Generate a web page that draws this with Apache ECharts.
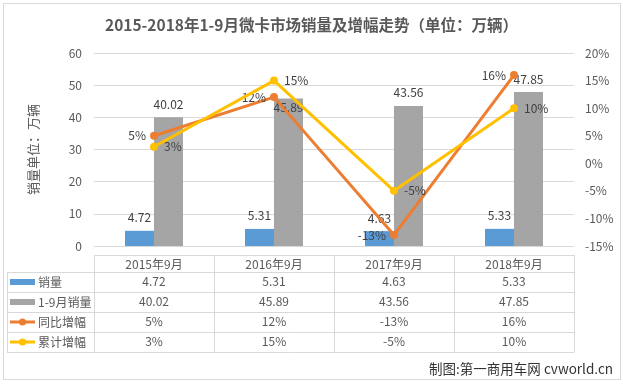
<!DOCTYPE html>
<html>
<head>
<meta charset="utf-8">
<script src="https://cdn.jsdelivr.net/npm/echarts@6/dist/echarts.min.js"></script>
<style>
html,body{margin:0;padding:0;background:#fff;}
#main{width:623px;height:385px;}
</style>
</head>
<body>
<div id="main"></div>
<script>
const categories = ['2015年9月', '2016年9月', '2017年9月', '2018年9月'];
const seriesNames = ['销量', '1-9月销量', '同比增幅', '累计增幅'];
const monthSales = [4.72, 5.31, 4.63, 5.33];
const ytdSales = [40.02, 45.89, 43.56, 47.85];
const yoyGrowth = [5, 12, -13, 16];
const ytdGrowth = [3, 15, -5, 10];
const salesTicks = [0, 10, 20, 30, 40, 50, 60];
const growthTicks = [-15, -10, -5, 0, 5, 10, 15, 20];

const FONT = '"Noto Sans CJK SC", "Noto Sans", sans-serif';
const TXT = '#595959';
const GRID = '#d9d9d9';
const colors = ['#5B9BD5', '#A5A5A5', '#ED7D31', '#FFC000'];

const chart = echarts.init(document.getElementById('main'), null, {renderer: 'canvas'});

// the 2016 cumulative label sits just inside its bar in the original
const ytdSalesData = ytdSales.map((v, i) => i === 1
  ? {value: v, label: {position: 'insideTop', distance: 3}}
  : v);

const option = {
  animation: false,
  backgroundColor: '#fff',
  textStyle: {fontFamily: FONT},
  title: {
    text: '2015-2018年1-9月微卡市场销量及增幅走势（单位：万辆）',
    left: 'center', top: 12,
    textStyle: {fontFamily: FONT, fontSize: 15.5, fontWeight: 'bold', color: TXT}
  },
  grid: {left: 94, right: 49, top: 53, bottom: 139},
  xAxis: {
    type: 'category', data: categories,
    axisLine: {show: false}, axisTick: {show: false}, axisLabel: {show: false}
  },
  yAxis: [{
    type: 'value',
    min: salesTicks[0], max: salesTicks[salesTicks.length - 1],
    interval: salesTicks[1] - salesTicks[0],
    name: '销量单位：万辆', nameLocation: 'middle', nameGap: 54, nameRotate: 90,
    nameTextStyle: {fontFamily: FONT, fontSize: 13, color: TXT},
    axisLine: {show: false}, axisTick: {show: false},
    axisLabel: {fontFamily: FONT, fontSize: 12, color: TXT, margin: 12},
    splitLine: {lineStyle: {color: GRID, width: 1}}
  }, {
    type: 'value',
    min: growthTicks[0], max: growthTicks[growthTicks.length - 1],
    interval: growthTicks[1] - growthTicks[0],
    axisLine: {show: false}, axisTick: {show: false},
    axisLabel: {fontFamily: FONT, fontSize: 12, color: TXT, margin: 11, formatter: '{value}%'},
    splitLine: {show: false}
  }],
  series: [{
    name: seriesNames[0], type: 'bar', data: monthSales,
    barWidth: 29, barGap: '0%',
    itemStyle: {color: colors[0]},
    label: {show: true, position: 'top', distance: 7, fontFamily: FONT, fontSize: 12, color: '#404040'}
  }, {
    name: seriesNames[1], type: 'bar', data: ytdSalesData,
    barWidth: 29, barGap: '0%',
    itemStyle: {color: colors[1]},
    label: {show: true, position: 'top', distance: 7, fontFamily: FONT, fontSize: 12, color: '#404040'}
  }, {
    name: seriesNames[2], type: 'line', yAxisIndex: 1, data: yoyGrowth,
    symbol: 'circle', symbolSize: 8, z: 5,
    lineStyle: {color: colors[2], width: 3}, itemStyle: {color: colors[2]},
    label: {show: true, position: 'left', distance: 4, fontFamily: FONT, fontSize: 12, color: '#404040', formatter: '{c}%'}
  }, {
    name: seriesNames[3], type: 'line', yAxisIndex: 1, data: ytdGrowth,
    symbol: 'circle', symbolSize: 8, z: 6,
    lineStyle: {color: colors[3], width: 3}, itemStyle: {color: colors[3]},
    label: {show: true, position: 'right', distance: 6, fontFamily: FONT, fontSize: 12, color: '#404040', formatter: '{c}%'}
  }]
};
chart.setOption(option);

// Data table beneath the plot, aligned with the category axis
const centers = categories.map((c, i) => chart.convertToPixel({xAxisIndex: 0}, i));
const band = centers.length > 1 ? centers[1] - centers[0] : 120;
const colEdges = [centers[0] - band / 2].concat(centers.map(c => c + band / 2));
const tableLeft = 7;
const headerTop = 255, headerBottom = 272, rowH = 20;
const rows = [
  monthSales.map(v => v.toFixed(2)),
  ytdSales.map(v => v.toFixed(2)),
  yoyGrowth.map(v => v + '%'),
  ytdGrowth.map(v => v + '%')
];
const tableBottom = headerBottom + rowH * rows.length;
const g = [];
const hline = (x1, x2, y) => g.push({type: 'line', shape: {x1: x1, y1: y + 0.5, x2: x2, y2: y + 0.5}, style: {stroke: GRID, lineWidth: 1}, silent: true});
const vline = (x, y1, y2) => g.push({type: 'line', shape: {x1: x + 0.5, y1: y1, x2: x + 0.5, y2: y2}, style: {stroke: GRID, lineWidth: 1}, silent: true});
const txt = (text, x, y, align) => g.push({type: 'text', x: x, y: y, style: {text: text, fill: TXT, font: '12px ' + FONT, textAlign: align || 'center', textVerticalAlign: 'middle'}, silent: true});

// chart border
g.push({type: 'rect', shape: {x: 3.5, y: 3.5, width: 617, height: 376}, style: {fill: 'none', stroke: GRID, lineWidth: 1}, silent: true});

const xL = Math.round(colEdges[0]);
const xR = Math.round(colEdges[colEdges.length - 1]);
hline(xL, xR, headerTop);
for (let r = 0; r <= rows.length; r++) hline(tableLeft, xR, headerBottom + r * rowH);
vline(tableLeft, headerBottom, tableBottom);
colEdges.forEach(x => vline(Math.round(x), headerTop, tableBottom));
categories.forEach((c, i) => txt(c, centers[i], (headerTop + headerBottom) / 2 + 1));
rows.forEach((row, r) => {
  const cy = headerBottom + r * rowH + rowH / 2;
  row.forEach((v, i) => txt(v, centers[i], cy - 1));
  // legend keys
  if (r < 2) {
    g.push({type: 'rect', shape: {x: 10, y: cy - 3, width: 25, height: 6}, style: {fill: colors[r]}, silent: true});
  } else {
    g.push({type: 'line', shape: {x1: 10, y1: cy, x2: 35, y2: cy}, style: {stroke: colors[r], lineWidth: 3}, silent: true});
    g.push({type: 'circle', shape: {cx: 22.5, cy: cy, r: 3.5}, style: {fill: colors[r]}, silent: true});
  }
  g.push({type: 'text', x: 38, y: cy, style: {text: seriesNames[r], fill: TXT, font: '12px ' + FONT, textAlign: 'left', textVerticalAlign: 'middle'}, silent: true});
});

// source note
g.push({type: 'text', right: 10, top: 362, style: {text: '制图:第一商用车网 cvworld.cn', fill: '#333', font: '13.5px ' + FONT}, silent: true});

chart.setOption({graphic: g});
</script>
</body>
</html>
